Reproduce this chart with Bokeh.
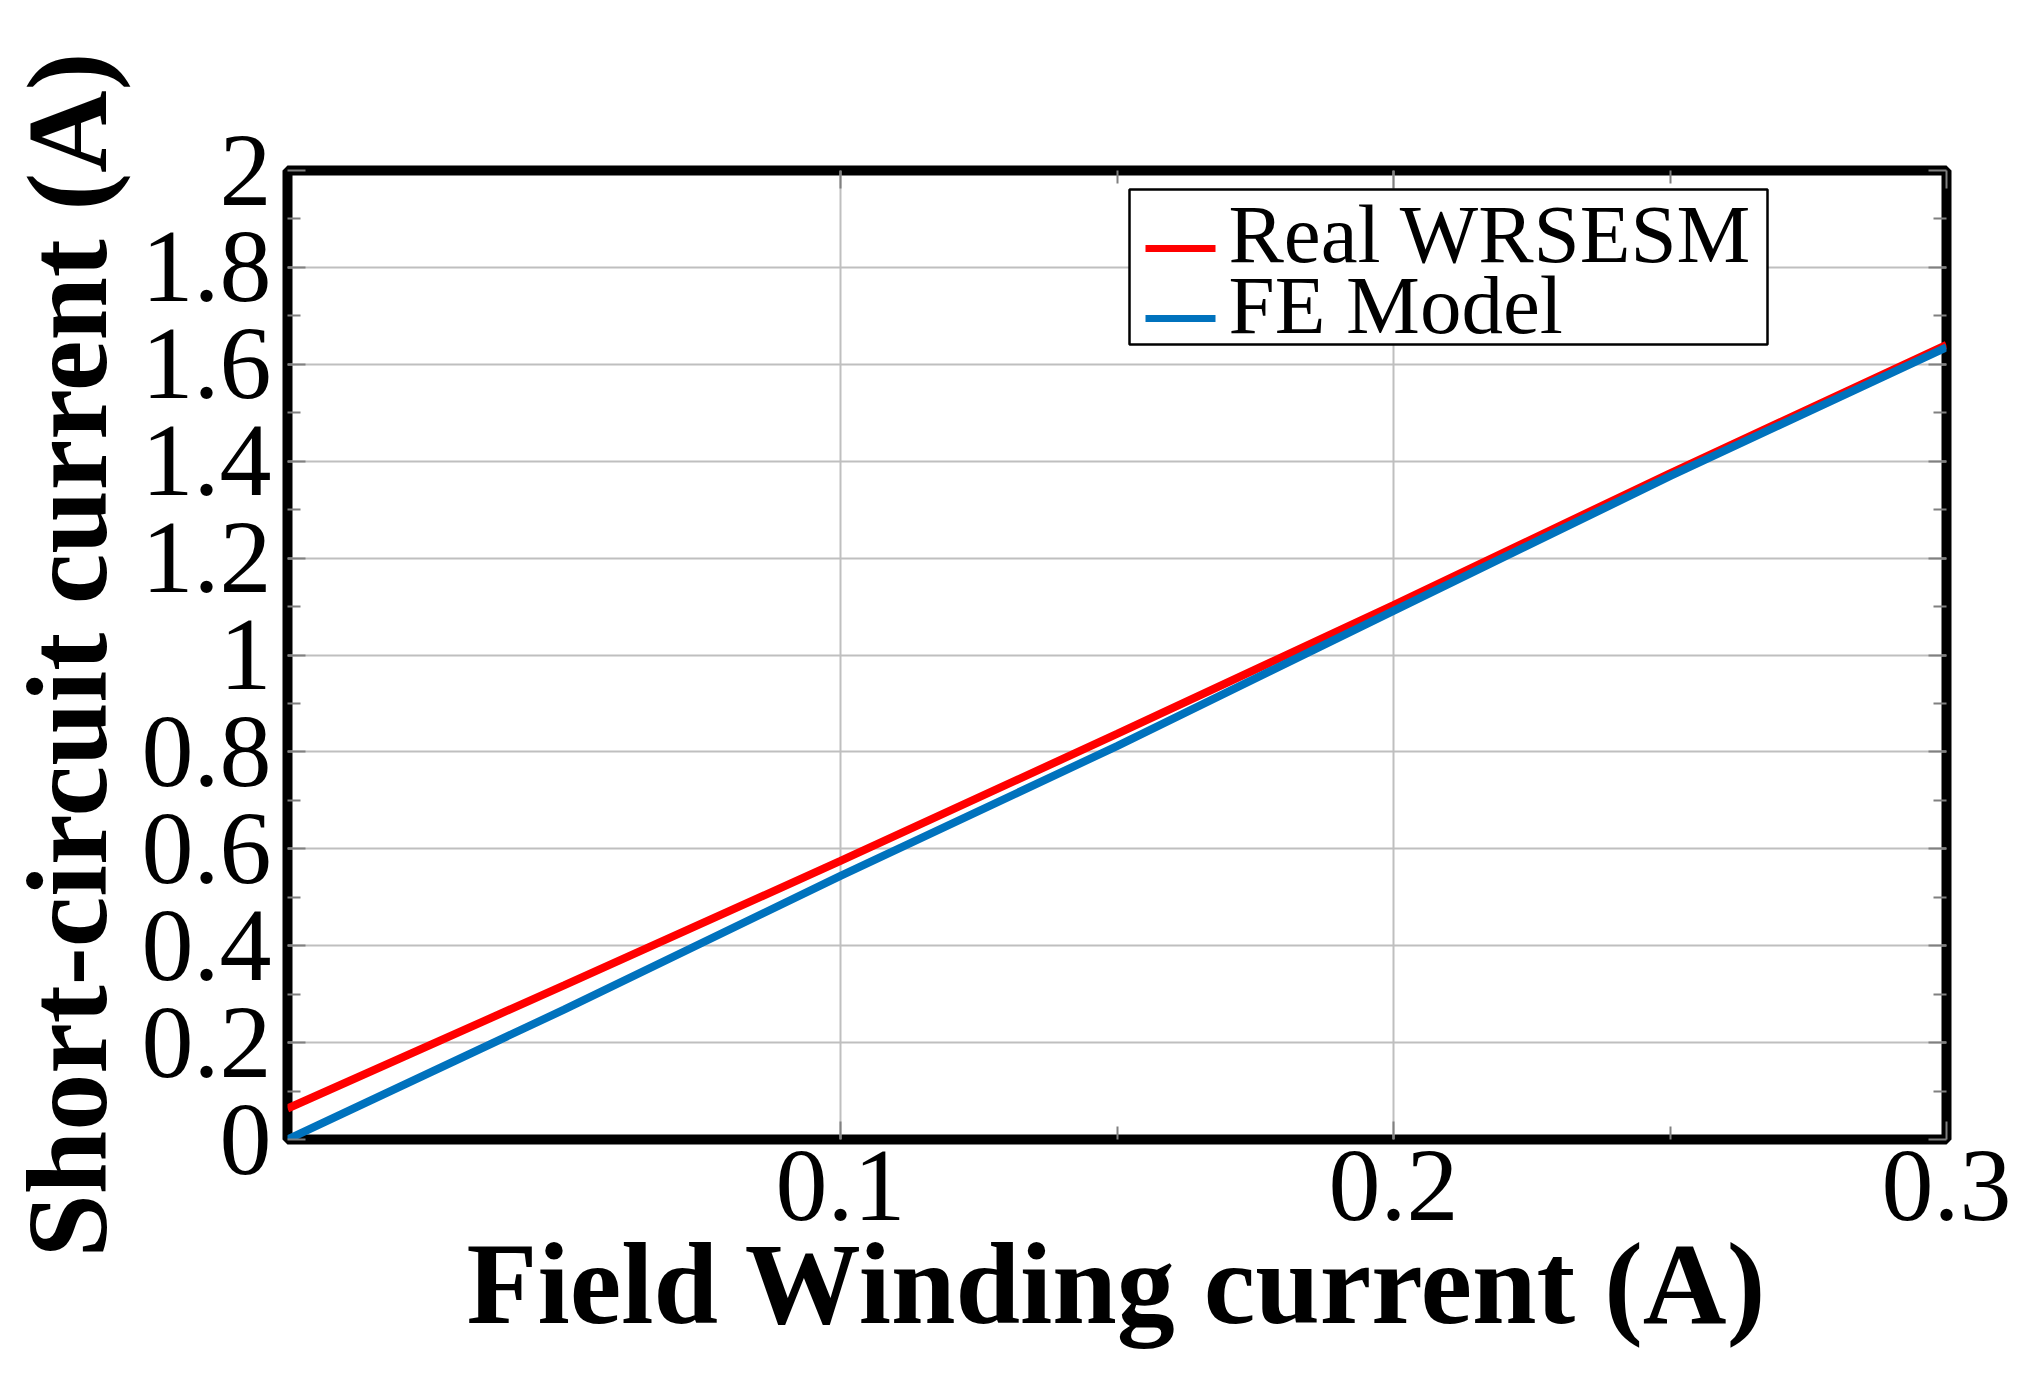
from bokeh.plotting import figure
from bokeh.models import Range1d, FixedTicker, LinearAxis, BoxAnnotation, Label
from bokeh.embed import file_html
from bokeh.resources import INLINE

# ---- data ----
field_current = [0.0, 0.05, 0.10, 0.15, 0.20, 0.25, 0.30]
real_wrsesm = [0.064, 0.318, 0.575, 0.837, 1.103, 1.375, 1.640]
fe_model = [0.000, 0.268, 0.544, 0.812, 1.091, 1.369, 1.635]

x_ticks = [0.1, 0.2, 0.3]
x_tick_labels = ["0.1", "0.2", "0.3"]
x_minor_ticks = [0.15, 0.25]
y_ticks = [0, 0.2, 0.4, 0.6, 0.8, 1, 1.2, 1.4, 1.6, 1.8, 2]
y_tick_labels = ["0", "0.2", "0.4", "0.6", "0.8", "1", "1.2", "1.4", "1.6", "1.8", "2"]
y_minor_ticks = [0.1, 0.3, 0.5, 0.7, 0.9, 1.1, 1.3, 1.5, 1.7, 1.9]

series_names = ["Real WRSESM", "FE Model"]
series_colors = ["#ff0000", "#0072bd"]

TICK_FONT = "Liberation Serif"
LABEL_FONT = "Liberation Serif"

X0, X1 = 0, 0.3
Y0, Y1 = 0, 2
FRAME_W, FRAME_H = 1659, 969

p = figure(
    frame_width=FRAME_W, frame_height=FRAME_H,
    min_border_left=281, min_border_top=170, min_border_right=77, min_border_bottom=214,
    x_range=Range1d(X0, X1), y_range=Range1d(Y0, Y1),
    output_backend="svg", toolbar_location=None,
    background_fill_color="white", border_fill_color="white",
)

p.line(field_current, real_wrsesm, line_color=series_colors[0], line_width=8)
p.line(field_current, fe_model, line_color=series_colors[1], line_width=8)

xt = FixedTicker(ticks=x_ticks, minor_ticks=x_minor_ticks)
yt = FixedTicker(ticks=y_ticks, minor_ticks=y_minor_ticks)


def style_axis(ax, show_labels=True):
    ax.axis_line_color = None
    ax.major_tick_in = 18
    ax.major_tick_out = 0
    ax.minor_tick_in = 13
    ax.minor_tick_out = 0
    ax.major_tick_line_color = "#808080"
    ax.major_tick_line_width = 2
    ax.minor_tick_line_color = "#808080"
    ax.minor_tick_line_width = 2
    if show_labels:
        ax.major_label_text_font = TICK_FONT
        ax.major_label_text_font_size = "104px"
        ax.major_label_text_color = "black"
    else:
        ax.major_label_text_color = None
        ax.major_label_text_font_size = "4px"


xa = p.xaxis[0]
xa.ticker = xt
xa.major_label_overrides = dict(zip(x_ticks, x_tick_labels))
style_axis(xa)
xa.major_label_standoff = 12
xa.axis_label = "Field Winding current (A)"
xa.axis_label_text_font = LABEL_FONT
xa.axis_label_text_font_style = "bold"
xa.axis_label_text_font_size = "116px"
xa.axis_label_text_color = "black"
xa.axis_label_standoff = -3

ya = p.yaxis[0]
ya.ticker = yt
ya.major_label_overrides = dict(zip(y_ticks, y_tick_labels))
style_axis(ya)
ya.major_label_standoff = 16
ya.axis_label = "Short-circuit current (A)"
ya.axis_label_text_font = LABEL_FONT
ya.axis_label_text_font_style = "bold"
ya.axis_label_text_font_size = "114px"
ya.axis_label_text_color = "black"
ya.axis_label_standoff = 8

ra = LinearAxis(ticker=yt)
style_axis(ra, show_labels=False)
p.add_layout(ra, "right")
ta = LinearAxis(ticker=xt)
style_axis(ta, show_labels=False)
p.add_layout(ta, "above")

p.xgrid.ticker = xt
p.ygrid.ticker = yt
for g in (p.xgrid[0], p.ygrid[0]):
    g.grid_line_color = "#bfbfbf"
    g.grid_line_width = 2

p.outline_line_color = "black"
p.outline_line_width = 10

# ---- legend (placed in pixels measured from the frame's top-left corner) ----
def px_x(px):
    return X0 + (X1 - X0) * px / FRAME_W


def px_y(px):
    return Y1 - (Y1 - Y0) * px / FRAME_H


LEG_BOX = dict(left=842, right=1480, top=19, bottom=174)
LEG_SWATCH_X = (858, 928)
LEG_ROW_Y = [78, 148]          # swatch centre rows
LEG_TEXT_BASE = [63, 134]      # text anchor rows
LEG_TEXT_X = 941

p.add_layout(BoxAnnotation(
    left=px_x(LEG_BOX["left"]), right=px_x(LEG_BOX["right"]),
    top=px_y(LEG_BOX["top"]), bottom=px_y(LEG_BOX["bottom"]),
    fill_color="white", fill_alpha=1.0,
    line_color="black", line_width=2.5, line_alpha=1.0,
))
for i, (name, color) in enumerate(zip(series_names, series_colors)):
    p.add_layout(BoxAnnotation(
        left=px_x(LEG_SWATCH_X[0]), right=px_x(LEG_SWATCH_X[1]),
        top=px_y(LEG_ROW_Y[i] - 3.5), bottom=px_y(LEG_ROW_Y[i] + 3.5),
        fill_color=color, fill_alpha=1.0, line_color=None,
    ))
    p.add_layout(Label(
        x=px_x(LEG_TEXT_X), y=px_y(LEG_TEXT_BASE[i]), text=name,
        text_font=TICK_FONT, text_font_size="83px", text_color="black",
        text_align="left", text_baseline="alphabetic",
    ))

open("out.html", "w").write(file_html(p, INLINE))
